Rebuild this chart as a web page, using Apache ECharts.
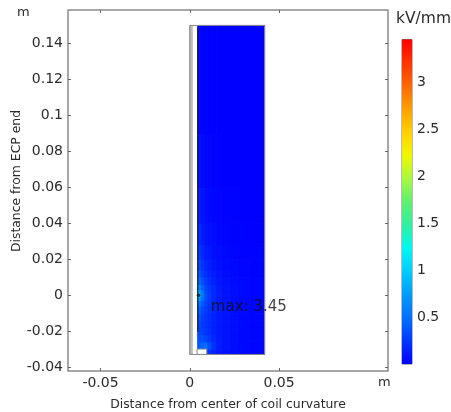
<!DOCTYPE html>
<html>
<head>
<meta charset="utf-8">
<style>
  html, body { margin: 0; padding: 0; background: #fff; }
  #main { width: 451px; height: 412px; filter: blur(0.45px); }
</style>
<script src="https://cdn.jsdelivr.net/npm/echarts@6/dist/echarts.min.js"></script>
</head>
<body>
<div id="main"></div>
<script>
// axis ticks, metres
const xTicks = [-0.05, 0, 0.05]
const yTicks = [-0.04, -0.02, 0, 0.02, 0.04, 0.06, 0.08, 0.1, 0.12, 0.14]
const xRange = [-0.0682, 0.111]
const yRange = [-0.0422, 0.1586]

// colour bar, colours evenly spaced from bottom to top
const barTicks = [0.5, 1, 1.5, 2, 2.5, 3]
const barRange = [0, 3.46]
const barColors = ['#0000ff', '#0038ff', '#0070ff', '#009cff', '#00ccff', '#00f8f0', '#30f0a0', '#60f070',
  '#a8f840', '#f0f800', '#ffd000', '#ffa000', '#ff6800', '#ff3400', '#ff0000']

// field cell edges (m) and values (kV/mm), rows bottom to top
const fieldX = [0.0041, 0.0056, 0.0067, 0.0084, 0.0101, 0.0123, 0.0151, 0.0184, 0.0229, 0.0279, 0.0346, 0.0419]
const fieldY = [-0.033, -0.03, -0.026, -0.022, -0.018, -0.014, -0.01, -0.006, -0.003, -0.001, 0.001, 0.003, 0.006, 0.01, 0.014, 0.02, 0.028, 0.04, 0.06, 0.09, 0.15]
const fieldRows = [
  [0.3, 0.3, 0.3, 0.3, 0.24, 0.16, 0.1, 0.07, 0.05, 0.03, 0.02],
  [0.38, 0.42, 0.45, 0.48, 0.36, 0.22, 0.13, 0.08, 0.05, 0.03, 0.02],
  [0.34, 0.34, 0.34, 0.3, 0.24, 0.17, 0.12, 0.08, 0.05, 0.03, 0.02],
  [0.32, 0.3, 0.28, 0.24, 0.2, 0.15, 0.11, 0.08, 0.05, 0.03, 0.02],
  [0.34, 0.3, 0.26, 0.22, 0.18, 0.14, 0.11, 0.08, 0.05, 0.03, 0.02],
  [0.38, 0.33, 0.28, 0.23, 0.19, 0.15, 0.11, 0.08, 0.05, 0.03, 0.02],
  [0.46, 0.39, 0.32, 0.26, 0.21, 0.16, 0.12, 0.08, 0.05, 0.03, 0.02],
  [0.62, 0.5, 0.39, 0.3, 0.23, 0.17, 0.12, 0.08, 0.05, 0.03, 0.02],
  [0.88, 0.66, 0.48, 0.34, 0.25, 0.18, 0.12, 0.08, 0.05, 0.03, 0.02],
  [1.15, 0.78, 0.54, 0.36, 0.26, 0.18, 0.12, 0.08, 0.05, 0.03, 0.02],
  [0.95, 0.7, 0.5, 0.35, 0.25, 0.18, 0.12, 0.08, 0.05, 0.03, 0.02],
  [0.72, 0.56, 0.42, 0.31, 0.23, 0.17, 0.11, 0.08, 0.05, 0.03, 0.02],
  [0.55, 0.44, 0.34, 0.26, 0.2, 0.14, 0.1, 0.07, 0.04, 0.03, 0.02],
  [0.45, 0.35, 0.27, 0.21, 0.16, 0.12, 0.08, 0.05, 0.03, 0.02, 0.01],
  [0.38, 0.29, 0.22, 0.17, 0.13, 0.09, 0.06, 0.04, 0.03, 0.02, 0.01],
  [0.3, 0.23, 0.17, 0.13, 0.1, 0.07, 0.05, 0.03, 0.02, 0.01, 0.01],
  [0.23, 0.17, 0.12, 0.09, 0.07, 0.05, 0.03, 0.02, 0.01, 0.01, 0],
  [0.16, 0.11, 0.08, 0.06, 0.04, 0.03, 0.02, 0.01, 0.01, 0, 0],
  [0.09, 0.06, 0.04, 0.03, 0.02, 0.01, 0.01, 0, 0, 0, 0],
  [0.03, 0.02, 0.01, 0.01, 0, 0, 0, 0, 0, 0, 0]
]

// geometry rectangles: [x0, x1, y0, y1]
const shellRect = [0, 0.0017, -0.033, 0.15]
const gapRect = [0.0017, 0.0041, -0.033, 0.15]
const baseRect = [0.0041, 0.0095, -0.033, -0.03]
const outlineRect = [0, 0.0419, -0.033, 0.15]
// conductor edge and the point of maximum
const edgeLine = [[0.0045, 0.1485], [0.0045, -0.0203]]
const maxPoint = [0.0049, 0]
const maxLabel = 'max: 3.45'
const maxLabelAt = [0.0118, -0.0068]

const fontName = '"DejaVu Sans", sans-serif'
const textColor = '#2b2b2b'
const frameColor = '#8c8c8c'

const chart = echarts.init(document.getElementById('main'), null, { renderer: 'canvas' })

const fieldData = []
fieldRows.forEach((row, j) => {
  row.forEach((v, i) => {
    fieldData.push([fieldX[i], fieldX[i + 1], fieldY[j], fieldY[j + 1], v])
  })
})

function rectOf(api, style) {
  const a = api.coord([api.value(0), api.value(2)])
  const b = api.coord([api.value(1), api.value(3)])
  return {
    type: 'rect',
    shape: { x: a[0], y: b[1], width: b[0] - a[0], height: a[1] - b[1] },
    style: style,
  }
}

function rectSeries(rect, style, z) {
  return {
    type: 'custom',
    z: z,
    silent: true,
    encode: { x: [0, 1], y: [2, 3] },
    data: [rect],
    renderItem: (params, api) => rectOf(api, style),
  }
}

const barStops = barColors.map((c, i) => ({ offset: 1 - i / (barColors.length - 1), color: c })).reverse()

function frameAxis(position, range, ticks, labels, gridIndex) {
  return {
    type: 'value',
    gridIndex: gridIndex,
    position: position,
    min: range[0],
    max: range[1],
    axisLine: { show: false, onZero: false },
    splitLine: { show: false },
    axisTick: { show: true, inside: true, length: 3, customValues: ticks, lineStyle: { color: '#666' } },
    axisLabel: {
      show: labels,
      customValues: ticks,
      color: textColor,
      fontFamily: fontName,
      fontSize: 14,
      margin: 5,
      formatter: (v) => String(v),
    },
  }
}

const xMain = frameAxis('bottom', xRange, xTicks, true, 0)
xMain.axisLabel.margin = 5
xMain.name = 'Distance from center of coil curvature'
xMain.nameLocation = 'middle'
xMain.nameGap = 28
xMain.nameMoveOverlap = false
xMain.nameTextStyle = { color: textColor, fontFamily: fontName, fontSize: 12.4 }

const yMain = frameAxis('left', yRange, yTicks, true, 0)

const yBar = frameAxis('right', barRange, barTicks, true, 1)
yBar.axisLabel.margin = 5
yBar.axisTick.length = 2

const option = {
  backgroundColor: '#fff',
  animation: false,
  grid: [
    { left: 68, top: 10, width: 320, height: 361, show: true, outerBoundsMode: 'none', borderColor: frameColor, borderWidth: 1.5, backgroundColor: '#fff' },
    { left: 402, top: 39.5, width: 10, height: 324.5, show: true, outerBoundsMode: 'none', borderColor: '#777', borderWidth: 1, backgroundColor: 'transparent' },
  ],
  xAxis: [
    xMain,
    frameAxis('top', xRange, xTicks, false, 0),
    { type: 'value', gridIndex: 1, min: 0, max: 1, show: false },
  ],
  yAxis: [
    yMain,
    frameAxis('right', yRange, yTicks, false, 0),
    yBar,
    frameAxis('left', barRange, barTicks, false, 1),
  ],
  visualMap: {
    show: false,
    type: 'continuous',
    seriesIndex: 0,
    dimension: 4,
    min: barRange[0],
    max: barRange[1],
    inRange: { color: barColors },
  },
  graphic: [
    { type: 'text', left: 17, top: 6, style: { text: 'm', fill: textColor, font: '13px ' + fontName } },
    { type: 'text', left: 378, top: 376, style: { text: 'm', fill: textColor, font: '13px ' + fontName } },
    { type: 'text', left: 396, top: 11, style: { text: 'kV/mm', fill: textColor, font: '15.5px ' + fontName } },
    {
      type: 'text',
      x: 16.5,
      y: 181,
      rotation: Math.PI / 2,
      style: { text: 'Distance from ECP end', fill: textColor, font: '12.4px ' + fontName, align: 'center', verticalAlign: 'middle' },
    },
  ],
  series: [
    {
      type: 'custom',
      z: 2,
      silent: true,
      encode: { x: [0, 1], y: [2, 3] },
      data: fieldData,
      renderItem: (params, api) => {
        const c = api.visual('color')
        return rectOf(api, { fill: c, stroke: c, lineWidth: 1 })
      },
    },
    rectSeries(shellRect, { fill: '#bcbcbc', stroke: '#9a9a9a', lineWidth: 0.5 }, 3),
    rectSeries(gapRect, { fill: '#fff' }, 3),
    rectSeries(baseRect, { fill: '#fff', stroke: '#8c8c8c', lineWidth: 1 }, 4),
    rectSeries(outlineRect, { fill: 'transparent', stroke: '#8c8c8c', lineWidth: 1 }, 5),
    {
      type: 'line',
      z: 6,
      silent: true,
      symbol: 'none',
      data: edgeLine,
      lineStyle: { color: '#1a1a1a', width: 1.2 },
    },
    {
      type: 'scatter',
      z: 7,
      silent: true,
      symbolSize: 3.5,
      itemStyle: { color: '#111' },
      data: [maxPoint],
    },
    {
      type: 'scatter',
      z: 8,
      silent: true,
      symbolSize: 0,
      data: [maxLabelAt],
      label: {
        show: true,
        position: 'right',
        distance: 0,
        formatter: maxLabel,
        color: '#111',
        fontFamily: fontName,
        fontSize: 15,
      },
    },
    {
      type: 'custom',
      xAxisIndex: 2,
      yAxisIndex: 2,
      z: 3,
      silent: true,
      encode: { x: [0, 1], y: [2, 3] },
      data: [[0, 1, barRange[0], barRange[1]]],
      renderItem: (params, api) => rectOf(api, {
        fill: new echarts.graphic.LinearGradient(0, 0, 0, 1, barStops),
      }),
    },
  ],
}

chart.setOption(option)
</script>
</body>
</html>
